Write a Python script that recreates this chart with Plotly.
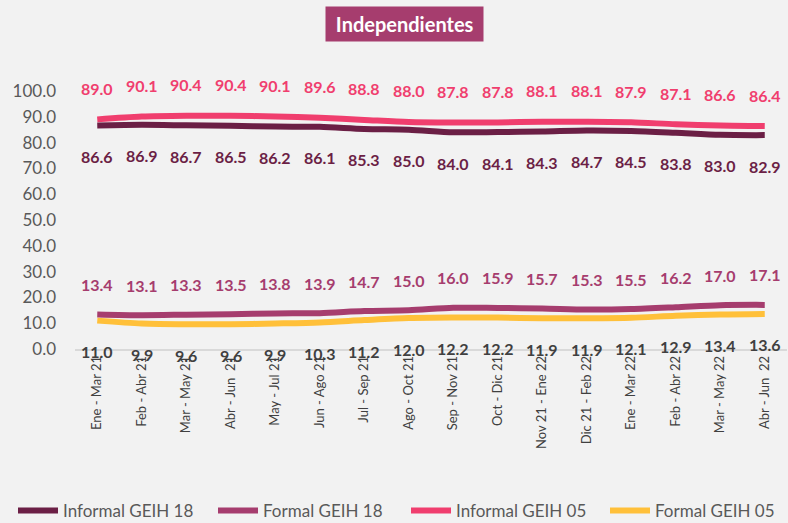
import plotly.graph_objects as go

categories = ["Ene - Mar 21", "Feb - Abr 21", "Mar - May 21", "Abr - Jun  21", "May - Jul 21",
              "Jun - Ago 21", "Jul - Sep 21", "Ago - Oct 21", "Sep - Nov 21", "Oct - Dic 21",
              "Nov 21 - Ene 22", "Dic 21 - Feb 22", "Ene - Mar 22", "Feb - Abr 22",
              "Mar - May 22", "Abr - Jun  22"]
informal_18 = [86.6, 86.9, 86.7, 86.5, 86.2, 86.1, 85.3, 85.0, 84.0, 84.1, 84.3, 84.7, 84.5, 83.8, 83.0, 82.9]
formal_18 = [13.4, 13.1, 13.3, 13.5, 13.8, 13.9, 14.7, 15.0, 16.0, 15.9, 15.7, 15.3, 15.5, 16.2, 17.0, 17.1]
informal_05 = [89.0, 90.1, 90.4, 90.4, 90.1, 89.6, 88.8, 88.0, 87.8, 87.8, 88.1, 88.1, 87.9, 87.1, 86.6, 86.4]
formal_05 = [11.0, 9.9, 9.6, 9.6, 9.9, 10.3, 11.2, 12.0, 12.2, 12.2, 11.9, 11.9, 12.1, 12.9, 13.4, 13.6]
y_ticks = [0, 10, 20, 30, 40, 50, 60, 70, 80, 90, 100]

FONT = "Lato"
W, H = 788, 523
series = [
    ("Informal GEIH 18", informal_18, "#6B1F45", "#6B1F45", 31, "legend", 13),
    ("Formal GEIH 18", formal_18, "#A63D6E", "#A63D6E", -30, "legend2", 213),
    ("Informal GEIH 05", informal_05, "#F03E6E", "#F03E6E", -31, "legend3", 406),
    ("Formal GEIH 05", formal_05, "#FFC03A", "#404040", 31, "legend4", 605),
]

fig = go.Figure()
annotations = []
legends = {}
for name, vals, color, lcolor, shift, leg, lx in series:
    fig.add_trace(go.Scatter(
        x=categories, y=vals, name=name, mode="lines", legend=leg,
        line=dict(color=color, width=6, shape="spline", smoothing=0.8),
        cliponaxis=False,
    ))
    legends[leg] = dict(orientation="h", xref="container", yref="container", x=lx / W,
                        y=(H - 511) / H, xanchor="left", yanchor="middle",
                        font=dict(family=FONT, size=17, color="#595959"),
                        itemwidth=40, bgcolor="rgba(0,0,0,0)")
    for c, v in zip(categories, vals):
        annotations.append(dict(
            x=c, y=v, xref="x", yref="y", text=f"{v:.1f}", showarrow=False,
            yshift=-shift, font=dict(family=FONT, size=16, color=lcolor, weight="bold"),
        ))

annotations.append(dict(
    xref="paper", yref="paper", x=(404 - 75) / 712, y=(349 - 24) / 258,
    xanchor="center", yanchor="middle", text="<b>&nbsp;Independientes&nbsp;</b>", showarrow=False,
    font=dict(family=FONT, size=20, color="white"), bgcolor="#A63D6E", borderpad=5,
))

fig.update_layout(
    width=W, height=H,
    margin=dict(l=75, r=1, t=91, b=174, autoexpand=False),
    paper_bgcolor="#F2F2F2", plot_bgcolor="#F2F2F2",
    font=dict(family=FONT, color="#595959"),
    showlegend=True,
    annotations=annotations,
    xaxis=dict(type="category", tickangle=-90, showgrid=False, showline=True, linecolor="#D9D9D9",
               linewidth=1.5, ticks="", tickfont=dict(family=FONT, size=13, color="#404040"),
               range=[-0.5, len(categories) - 0.5], automargin=False),
    yaxis=dict(range=[0, 100], tickvals=y_ticks, tickformat=".1f", showgrid=False, zeroline=False,
               showline=False, ticks="", ticklabelstandoff=18, automargin=False,
               tickfont=dict(family=FONT, size=17, color="#595959")),
    **legends,
)

fig.write_html("out.html", config={"displayModeBar": False},
               post_script="document.body.style.margin='0';")
